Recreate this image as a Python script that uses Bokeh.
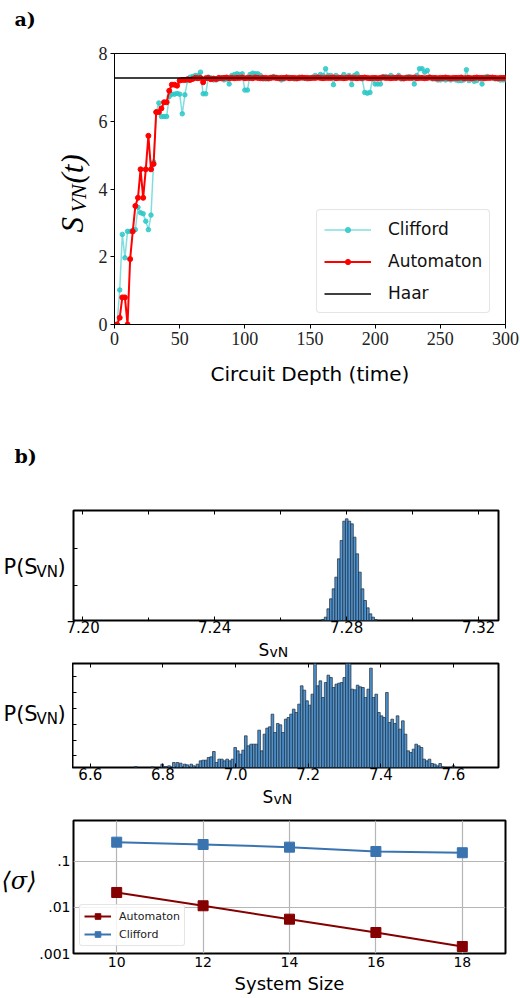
import numpy as np
from bokeh.plotting import figure
from bokeh.layouts import column, row
from bokeh.models import (Label, Legend, LegendItem, Range1d, FixedTicker,
                          LinearAxis, PrintfTickFormatter)
from bokeh.embed import file_html
from bokeh.resources import INLINE

# ---------------- data ----------------
depth = list(range(0, 301, 2))
clifford = [0.0, 0.0, 1.02, 2.66, 1.97, 2.75, 2.75, 2.78, 2.80, 3.46,
            3.30, 3.27, 3.05, 2.80, 3.23, 4.80, 6.27, 6.54, 6.14, 6.14,
            6.14, 6.73, 6.80, 6.80, 6.82, 6.80, 6.22, 6.78, 7.20, 7.30,
            7.32, 7.35, 7.35, 7.45, 6.81, 6.81, 7.30, 7.28, 7.22, 7.22,
            7.25, 7.28, 7.22, 7.25, 7.10, 7.35, 7.38, 7.40, 7.38, 7.40,
            6.92, 6.92, 7.38, 7.42, 7.40, 7.40, 7.35, 7.25, 7.25, 7.25,
            7.30, 7.32, 7.30, 7.28, 7.22, 7.25, 7.30, 7.30, 7.28, 7.25,
            7.25, 7.30, 7.28, 7.28, 7.25, 7.28, 7.30, 7.35, 7.30, 7.38,
            7.35, 7.55, 7.35, 7.35, 7.08, 7.35, 7.30, 7.30, 7.38, 7.30,
            7.35, 7.08, 7.35, 7.40, 7.30, 7.25, 6.85, 6.83, 6.85, 7.25,
            7.10, 7.10, 7.10, 7.32, 7.32, 7.30, 7.35, 7.30, 7.28, 7.35,
            7.25, 7.25, 7.30, 7.32, 7.30, 7.10, 7.35, 7.55, 7.55, 7.45,
            7.50, 7.30, 7.25, 7.25, 7.22, 7.22, 7.25, 7.22, 7.25, 7.22,
            7.25, 7.22, 7.20, 7.20, 7.22, 7.52, 7.20, 7.25, 7.18, 7.20,
            7.28, 7.10, 7.30, 7.32, 7.30, 7.28, 7.25, 7.25, 7.22, 7.22,
            7.22]
automaton = [0.0, 0.0, 0.20, 0.80, 0.80, 0.0, 1.93, 2.75, 3.50, 3.74,
             4.58, 3.74, 4.58, 5.57, 4.58, 4.74, 6.27, 6.27, 6.38, 6.56,
             6.56, 6.90, 7.08, 7.08, 7.05, 7.20, 7.22, 7.22, 7.24, 7.22,
             7.25, 7.28, 7.27, 7.28, 7.15, 7.27, 7.28, 7.24, 7.26, 7.25,
             7.28, 7.27, 7.28, 7.29, 7.27, 7.28, 7.27, 7.28, 7.28, 7.29,
             7.27, 7.28, 7.28, 7.27, 7.29, 7.28, 7.27, 7.28, 7.28, 7.27,
             7.28, 7.29, 7.28, 7.27, 7.28, 7.28, 7.29, 7.27, 7.28, 7.28,
             7.27, 7.28, 7.29, 7.28, 7.28, 7.27, 7.28, 7.28, 7.29, 7.28,
             7.27, 7.28, 7.28, 7.28, 7.29, 7.27, 7.28, 7.28, 7.27, 7.28,
             7.29, 7.28, 7.28, 7.27, 7.28, 7.28, 7.29, 7.28, 7.27, 7.28,
             7.28, 7.27, 7.28, 7.29, 7.28, 7.28, 7.27, 7.28, 7.28, 7.29,
             7.28, 7.27, 7.28, 7.28, 7.28, 7.29, 7.27, 7.28, 7.28, 7.27,
             7.28, 7.29, 7.28, 7.28, 7.27, 7.28, 7.28, 7.29, 7.28, 7.27,
             7.28, 7.28, 7.28, 7.29, 7.27, 7.28, 7.28, 7.27, 7.28, 7.29,
             7.28, 7.28, 7.27, 7.28, 7.28, 7.29, 7.28, 7.27, 7.28, 7.28,
             7.28]
haar = 7.28
depth_ticks = [0, 50, 100, 150, 200, 250, 300]
entropy_ticks = [0, 2, 4, 6, 8]

# histogram 1 (automaton)
hist1_centers = [7.2728, 7.2736, 7.2744, 7.2752, 7.2760, 7.2768, 7.2776,
                 7.2784, 7.2792, 7.2800, 7.2808, 7.2816, 7.2824, 7.2832,
                 7.2840, 7.2848, 7.2856, 7.2864, 7.2872, 7.2880, 7.2888]
hist1_counts = [3, 10, 35, 65, 95, 130, 185, 240, 298, 305, 298, 290, 250,
                200, 145, 95, 60, 38, 20, 10, 3]
hist1_width = 0.0008
hist1_ticks = [7.20, 7.24, 7.28, 7.32]
hist1_minor = [7.22, 7.26, 7.30]
hist1_yticks = [105, 215]

# histogram 2 (clifford)
hist2_sparse_centers = [6.725, 6.771, 6.798, 6.807, 6.817, 6.830, 6.840,
                        6.849, 6.860, 6.867, 6.878, 6.885, 6.895, 7.600]
hist2_sparse_counts = [3, 2, 10, 3, 5, 15, 15, 13, 10, 8, 10, 5, 10, 5]
hist2_bin_start = 6.9036
hist2_width = 0.00733
hist2_counts = [20, 22, 22, 30, 32, 48, 15, 25, 25, 20, 25, 20, 25, 60, 50,
                40, 52, 95, 65, 70, 70, 70, 112, 50, 100, 118, 122, 160, 105,
                132, 128, 105, 145, 150, 160, 175, 165, 190, 245, 232, 200,
                187, 220, 320, 245, 260, 210, 255, 277, 270, 240, 250, 253,
                255, 270, 320, 320, 235, 233, 247, 242, 240, 210, 235, 298,
                210, 220, 165, 155, 150, 225, 135, 145, 132, 155, 115, 140,
                100, 50, 45, 55, 70, 65, 60, 25, 20, 25, 12, 10, 5, 12, 2]
hist2_ticks = [6.6, 6.8, 7.0, 7.2, 7.4, 7.6]
hist2_yticks = [35, 82.5, 130, 177.5, 225, 272.5]

# panel c
system_size = [10, 12, 14, 16, 18]
sigma_automaton = [0.0212, 0.0109, 0.00557, 0.00286, 0.00142]
sigma_clifford = [0.263, 0.234, 0.205, 0.165, 0.155]
sigma_ticks = [0.001, 0.01, 0.1]
sigma_labels = [".001", ".01", ".1"]


# ---------------- helpers ----------------
def text_fig(w, h):
    f = figure(output_backend="svg", toolbar_location=None,
               frame_width=w, frame_height=h, min_border=0,
               x_range=Range1d(0, w), y_range=Range1d(0, h),
               x_axis_type=None, y_axis_type=None)
    f.outline_line_color = None
    return f


def put(f, left, top, h, px, py, text, size, font="DejaVu Sans", style="normal",
        align="left", baseline="middle", angle=0.0):
    """text at page pixel (px, py) inside a figure whose frame starts at (left, top)"""
    f.add_layout(Label(x=px - left, y=top + h - py, x_units="screen", y_units="screen",
                       text=text, text_font_size=size, text_font=font,
                       text_font_style=style, text_align=align,
                       text_baseline=baseline, angle=angle, text_color="black"))


def round_corners(leg, r):
    try:
        leg.border_radius = r
    except Exception:
        pass


# ---------------- panel a ----------------
pa = figure(output_backend="svg", toolbar_location=None,
            frame_width=391, frame_height=271,
            x_range=Range1d(0, 300), y_range=Range1d(0, 8),
            min_border_left=24, min_border_right=15,
            min_border_top=53, min_border_bottom=98)
pa.grid.visible = False
pa.outline_line_color = "black"
pa.outline_line_width = 1
pa.outline_line_alpha = 1
for ax in (pa.xaxis[0], pa.yaxis[0]):
    ax.major_tick_in = 0
    ax.major_tick_out = 4
    ax.minor_tick_in = 0
    ax.minor_tick_out = 0
    ax.axis_line_color = "black"
    ax.major_tick_line_color = "black"
    ax.major_label_text_font = "Liberation Serif"
    ax.major_label_text_font_size = "18px"
    ax.major_label_text_color = "#222222"
    ax.major_label_standoff = 3
pa.xaxis.ticker = FixedTicker(ticks=depth_ticks)
pa.yaxis.ticker = FixedTicker(ticks=entropy_ticks)
pa.xaxis.axis_label = "Circuit Depth (time)"
pa.xaxis.axis_label_text_font = "DejaVu Sans"
pa.xaxis.axis_label_text_font_size = "20px"
pa.xaxis.axis_label_text_font_style = "normal"
pa.xaxis.axis_label_text_color = "black"
pa.xaxis.axis_label_standoff = 14

cyan = "#2ec8c8"
cl_line = pa.line(depth, clifford, line_color=cyan, line_width=1.5, line_alpha=0.6)
cl_pts = pa.scatter(depth, clifford, size=4.5, fill_color=cyan, line_color=cyan,
                    fill_alpha=0.85, line_alpha=0.85)
au_line = pa.line(depth, automaton, line_color="#ff0000", line_width=2)
au_pts = pa.scatter(depth, automaton, size=5, fill_color="#ff0000", line_color="#ff0000")
ha_line = pa.line([depth[0], depth[-1]], [haar, haar], line_color="black", line_width=1.5)

leg_a = Legend(items=[LegendItem(label="Clifford", renderers=[cl_line, cl_pts]),
                      LegendItem(label="Automaton", renderers=[au_line, au_pts]),
                      LegendItem(label="Haar", renderers=[ha_line])],
               location=(202, 11), orientation="vertical",
               label_text_font="DejaVu Sans", label_text_font_size="17px",
               label_text_color="#111111",
               glyph_width=47, glyph_height=13, label_height=24,
               spacing=8, padding=7, label_standoff=17, margin=0,
               border_line_color="#cccccc", border_line_width=1,
               background_fill_alpha=0.85)
round_corners(leg_a, 4)
pa.add_layout(leg_a, "center")

LA = text_fig(90, 422)
put(LA, 0, 0, 422, 14, 18, "a)", "19px", font="DejaVu Serif", style="bold")
put(LA, 0, 0, 422, 72, 232, "S", "31px", font="Liberation Serif", style="italic",
    baseline="alphabetic", angle=np.pi / 2)
put(LA, 0, 0, 422, 78, 212, "VN", "22px", font="Liberation Serif", style="italic",
    baseline="alphabetic", angle=np.pi / 2)
put(LA, 0, 0, 422, 72, 183, "(t)", "31px", font="Liberation Serif", style="italic",
    baseline="alphabetic", angle=np.pi / 2)


# ---------------- histograms ----------------
def hist_fig(fw, fh, bl, br, bt, bb, xr, yr, ticks, minor, fmt, yticks):
    p = figure(output_backend="svg", toolbar_location=None,
               frame_width=fw, frame_height=fh,
               x_range=Range1d(*xr), y_range=Range1d(*yr), y_axis_type=None,
               min_border_left=bl, min_border_right=br,
               min_border_top=bt, min_border_bottom=bb)
    p.grid.visible = False
    p.outline_line_color = "black"
    p.outline_line_width = 2
    p.outline_line_alpha = 1
    xa = p.xaxis[0]
    xa.ticker = FixedTicker(ticks=ticks, minor_ticks=minor)
    xa.formatter = PrintfTickFormatter(format=fmt)
    xa.axis_line_color = None
    xa.major_tick_in = 4
    xa.major_tick_out = 0
    xa.minor_tick_in = 3
    xa.minor_tick_out = 0
    xa.major_label_text_font = "DejaVu Sans"
    xa.major_label_text_font_size = "15px"
    xa.major_label_text_color = "black"
    xa.major_label_standoff = 0
    top = LinearAxis(ticker=FixedTicker(ticks=[], minor_ticks=sorted(ticks + minor)),
                     axis_line_color=None, major_tick_in=0, major_tick_out=0,
                     minor_tick_in=4, minor_tick_out=0, major_label_standoff=0)
    p.add_layout(top, "above")
    left = LinearAxis(ticker=FixedTicker(ticks=[], minor_ticks=yticks),
                      axis_line_color=None, major_tick_in=0, major_tick_out=0,
                      minor_tick_in=4, minor_tick_out=0, major_label_standoff=0)
    p.add_layout(left, "left")
    return p


bar_fill = "#4f93cf"
bar_line = "#1c2a38"

# row B1: page y 422 .. 638
pb1 = hist_fig(425, 110, 7, 22, 88, 18, (7.1972, 7.326), (0, 330),
               hist1_ticks, hist1_minor, "%.2f", hist1_yticks)
pb1.vbar(x=hist1_centers, top=hist1_counts, width=hist1_width, bottom=0,
         fill_color=bar_fill, line_color=bar_line, line_width=0.7)

# row B2: page y 662 .. 785
hist2_centers = [hist2_bin_start + hist2_width * i for i in range(len(hist2_counts))]
pb2 = hist_fig(426, 104, 0, 22, 1, 18, (6.551, 7.724), (0, 312),
               hist2_ticks, [], "%.1f", hist2_yticks)
pb2.vbar(x=hist2_sparse_centers, top=hist2_sparse_counts, width=hist2_width, bottom=0,
         fill_color=bar_fill, line_color=bar_line, line_width=0.7)
pb2.vbar(x=hist2_centers, top=hist2_counts, width=hist2_width, bottom=0,
         fill_color=bar_fill, line_color=bar_line, line_width=0.7)

LB1 = text_fig(66, 216)
put(LB1, 0, 422, 216, 14, 455, "b)", "19px", font="DejaVu Serif", style="bold")
put(LB1, 0, 422, 216, 3, 566, "P(S", "21px")
put(LB1, 0, 422, 216, 36, 571, "VN", "15px")
put(LB1, 0, 422, 216, 57, 566, ")", "21px")

S1 = text_fig(520, 24)            # page y 638 .. 662
put(S1, 0, 638, 24, 258, 639, "S", "17px", baseline="top")
put(S1, 0, 638, 24, 269, 643, "vN", "14px", baseline="top")

LB2 = text_fig(72, 123)           # page y 662 .. 785
put(LB2, 0, 662, 123, 3, 713, "P(S", "21px")
put(LB2, 0, 662, 123, 36, 718, "VN", "15px")
put(LB2, 0, 662, 123, 57, 713, ")", "21px")

S2 = text_fig(520, 23)            # page y 785 .. 808
put(S2, 0, 785, 23, 262, 786, "S", "17px", baseline="top")
put(S2, 0, 785, 23, 273, 790, "vN", "14px", baseline="top")

# ---------------- panel c : page y 808 .. 997 ----------------
pc = figure(output_backend="svg", toolbar_location=None, y_axis_type="log",
            frame_width=432, frame_height=133,
            x_range=Range1d(9, 19), y_range=Range1d(0.001, 0.778),
            min_border_left=35, min_border_right=17,
            min_border_top=12, min_border_bottom=44)
pc.outline_line_color = "black"
pc.outline_line_width = 2
pc.outline_line_alpha = 1
pc.xaxis.ticker = FixedTicker(ticks=system_size)
pc.yaxis.ticker = FixedTicker(ticks=sigma_ticks)
pc.yaxis.major_label_overrides = {t: l for t, l in zip(sigma_ticks, sigma_labels)}
for ax in (pc.xaxis[0], pc.yaxis[0]):
    ax.axis_line_color = None
    ax.major_tick_in = 0
    ax.major_tick_out = 0
    ax.minor_tick_in = 0
    ax.minor_tick_out = 0
    ax.major_label_text_font = "DejaVu Sans"
    ax.major_label_text_font_size = "14px"
    ax.major_label_text_color = "black"
pc.xaxis.major_label_standoff = 3
pc.yaxis.major_label_standoff = 3
pc.xaxis.axis_label = "System Size"
pc.xaxis.axis_label_text_font = "DejaVu Sans"
pc.xaxis.axis_label_text_font_size = "18px"
pc.xaxis.axis_label_text_font_style = "normal"
pc.xaxis.axis_label_text_color = "black"
pc.xaxis.axis_label_standoff = 3
pc.xgrid.ticker = FixedTicker(ticks=system_size)
pc.ygrid.ticker = FixedTicker(ticks=sigma_ticks)
pc.grid.grid_line_color = "#b5b5b5"
pc.grid.grid_line_width = 1.2
pc.grid.grid_line_alpha = 1
pc.ygrid.minor_grid_line_color = None

dark_red = "#850000"
blue = "#3a74b0"
a_line = pc.line(system_size, sigma_automaton, line_color=dark_red, line_width=2)
a_pts = pc.scatter(system_size, sigma_automaton, marker="square", size=10,
                   fill_color=dark_red, line_color=dark_red)
c_line = pc.line(system_size, sigma_clifford, line_color=blue, line_width=2)
c_pts = pc.scatter(system_size, sigma_clifford, marker="square", size=10,
                   fill_color=blue, line_color=blue)
leg_c = Legend(items=[LegendItem(label="Automaton", renderers=[a_line, a_pts]),
                      LegendItem(label="Clifford", renderers=[c_line, c_pts])],
               location=(6, 7), label_text_font="DejaVu Sans",
               label_text_font_size="11px", label_text_color="#222222",
               glyph_width=27, glyph_height=14,
               label_height=14, spacing=4, padding=4, label_standoff=8, margin=0,
               border_line_color="#cccccc", background_fill_alpha=0.85)
round_corners(leg_c, 3)
pc.add_layout(leg_c, "center")

LC = text_fig(36, 189)
put(LC, 0, 808, 189, 1, 880, "\u27e8\u03c3\u27e9", "24px", font="DejaVu Serif", style="italic")

layout = column(
    row(column(LA), column(pa)),
    row(column(LB1), column(pb1)),
    row(column(S1)),
    row(column(LB2), column(pb2)),
    row(column(S2)),
    row(column(LC), column(pc)),
)
open("out.html", "w").write(file_html(layout, INLINE))
